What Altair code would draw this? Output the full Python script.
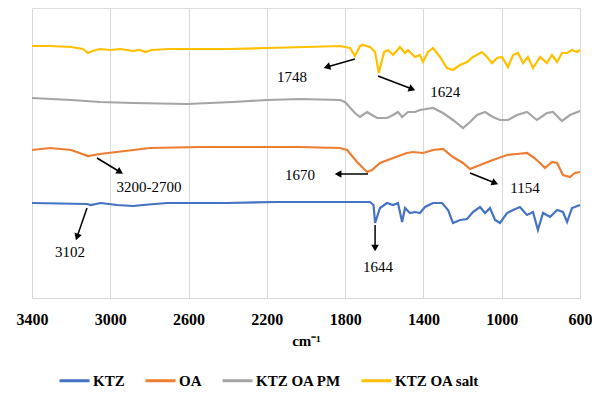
import altair as alt
import pandas as pd

# ---- spectra (wavenumber cm-1, offset transmittance, arbitrary units) ----
wn_ktz = [3400, 3119, 3100, 3050, 2966, 2884, 2833, 2710, 2400, 2148, 1826, 1673, 1655, 1647, 1622,
          1586, 1555, 1530, 1509, 1494, 1469, 1443, 1418, 1392, 1351, 1305, 1274, 1249, 1213, 1177,
          1147, 1111, 1085, 1060, 1034, 1009, 973, 942, 907, 871, 840, 815, 789, 753, 717, 687, 666,
          641, 600]
t_ktz = [95, 94, 93, 95, 93, 92, 93, 95, 95, 96, 96, 96, 93, 75, 90,
         95, 93, 95, 76, 90, 85, 86, 85, 91, 95, 95, 88, 75, 78, 79,
         86, 91, 85, 90, 78, 75, 85, 88, 91, 83, 86, 68, 85, 81, 88, 86, 76,
         90, 93]

wn_oa = [3400, 3308, 3200, 3114, 3053, 2797, 2542, 2235, 2031, 1826, 1790, 1739, 1688, 1663, 1622,
         1555, 1484, 1453, 1402, 1351, 1300, 1249, 1198, 1162, 1111, 1045, 973, 922, 871, 840, 804,
         779, 743, 717, 687, 651, 626, 600]
t_oa = [148, 150, 148, 142, 144, 150, 151, 151, 151, 150, 148, 136, 126, 128, 135,
        140, 145, 146, 145, 148, 149, 141, 135, 129, 133, 138, 143, 144, 145, 141, 135,
        130, 136, 135, 123, 121, 125, 126]

wn_pm = [3400, 3200, 3053, 2884, 2608, 2373, 2199, 2031, 1826, 1801, 1750, 1724, 1688, 1663, 1637,
         1586, 1555, 1530, 1509, 1479, 1443, 1418, 1351, 1300, 1249, 1198, 1162, 1126, 1085, 1045,
         1009, 968, 922, 871, 820, 769, 738, 692, 651, 600]
t_pm = [200, 198, 196, 195, 194, 196, 198, 199, 198, 196, 185, 181, 186, 183, 180,
        180, 183, 186, 181, 186, 186, 188, 190, 185, 178, 170, 176, 183, 186, 181,
        178, 178, 183, 186, 178, 185, 186, 177, 183, 187]

wn_salt = [3400, 3308, 3200, 3140, 3114, 3090, 3053, 3000, 2950, 2884, 2850, 2820, 2790, 2700, 2600,
           2400, 2200, 2000, 1826, 1801, 1775, 1750, 1724, 1709, 1673, 1647, 1628, 1601, 1581, 1555,
           1520, 1494, 1479, 1443, 1418, 1402, 1377, 1351, 1315, 1280, 1249, 1213, 1177, 1147, 1101,
           1075, 1050, 1024, 999, 968, 942, 917, 891, 866, 840, 804, 769, 743, 717, 692, 666, 641,
           615, 600]
t_salt = [252, 252, 251, 249, 245, 247, 249, 248, 249, 247, 248, 246, 248, 249, 249,
          249, 250, 251, 252, 251, 250, 242, 252, 253, 251, 246, 225, 246, 248, 243,
          251, 245, 248, 241, 243, 236, 246, 250, 241, 230, 228, 233, 236, 241, 246,
          241, 235, 240, 241, 231, 243, 245, 235, 241, 230, 241, 235, 243, 236, 245, 245, 248,
          246, 248]

series_names = ["KTZ", "OA", "KTZ OA PM", "KTZ OA salt"]
series_colors = ["#4472C4", "#ED7D31", "#A5A5A5", "#FFC000"]
x_ticks = [3400, 3000, 2600, 2200, 1800, 1400, 1000, 600]

# ---- peak annotations ----
ann_text = ["1748", "1624", "3200-2700", "1670", "1154", "3102", "1644"]
ann_tx = [2072, 1289, 2802, 2031, 881, 3206, 1632]
ann_ty = [221, 206, 111, 123, 110, 46, 31]
arr_x1 = [1750, 1632, 3068, 1683, 1162, 3119, 1647]
arr_y1 = [239, 222, 140, 124, 125, 90, 73]
arr_x2 = [1893, 1458, 2950, 1836, 1034, 3170, 1647]
arr_y2 = [231, 209, 126, 124, 115, 61, 50]
arr_angle = [254, 111, 121, 270, 112, 199, 180]

rows = []
for name, wx, ty in [("KTZ", wn_ktz, t_ktz), ("OA", wn_oa, t_oa),
                     ("KTZ OA PM", wn_pm, t_pm), ("KTZ OA salt", wn_salt, t_salt)]:
    for a, b in zip(wx, ty):
        rows.append({"wn": a, "t": b, "series": name})
df = pd.DataFrame(rows)

ann = pd.DataFrame({"label": ann_text, "tx": ann_tx, "ty": ann_ty,
                    "x1": arr_x1, "y1": arr_y1, "x2": arr_x2, "y2": arr_y2,
                    "ang": arr_angle})

xscale = alt.Scale(domain=[600, 3400], reverse=True, nice=False)
yscale = alt.Scale(domain=[0, 290], nice=False)

lines = alt.Chart(df).mark_line(strokeWidth=2.2).encode(
    x=alt.X("wn:Q", scale=xscale,
            axis=alt.Axis(values=x_ticks, title="cm⁻¹", format="d",
                          grid=True, gridColor="#D9D9D9", gridWidth=1,
                          domainColor="#D9D9D9", domainWidth=1, ticks=False,
                          labelFont="Liberation Serif", labelFontWeight="bold",
                          labelFontSize=16, labelColor="#000000", labelPadding=13,
                          labelFlush=False,
                          titleFont="Liberation Serif", titleFontWeight="bold",
                          titleFontSize=15, titleColor="#000000", titlePadding=6)),
    y=alt.Y("t:Q", scale=yscale, axis=None),
    color=alt.Color("series:N",
                    scale=alt.Scale(domain=series_names, range=series_colors),
                    sort=series_names,
                    legend=alt.Legend(title=None, orient="none", direction="horizontal",
                                      legendX=26, legendY=356,
                                      symbolType="stroke", symbolSize=900,
                                      symbolStrokeWidth=3, labelOffset=2,
                                      columnPadding=14,
                                      labelFont="Liberation Serif", labelFontWeight="bold",
                                      labelFontSize=15, labelColor="#000000")),
    order=alt.Order("wn:Q"),
)

shafts = alt.Chart(ann).mark_rule(color="black", strokeWidth=1.5).encode(
    x=alt.X("x1:Q", scale=xscale), y=alt.Y("y1:Q", scale=yscale),
    x2="x2:Q", y2="y2:Q")

heads = alt.Chart(ann).mark_point(shape="triangle-up", filled=True, color="black",
                                  size=60, opacity=1).encode(
    x=alt.X("x2:Q", scale=xscale), y=alt.Y("y2:Q", scale=yscale),
    angle=alt.Angle("ang:Q", scale=None))

labels = alt.Chart(ann).mark_text(font="Liberation Serif", fontSize=15, color="black").encode(
    x=alt.X("tx:Q", scale=xscale), y=alt.Y("ty:Q", scale=yscale), text="label:N")

chart = alt.layer(lines, shafts, heads, labels).properties(
    width=548, height=290,
    autosize=alt.AutoSizeParams(type="none"),
    padding={"left": 32, "top": 8, "right": 12, "bottom": 100},
).configure_view(stroke=None).configure(background="white")

chart.save("out.html", embed_options={"renderer": "svg", "actions": False})
